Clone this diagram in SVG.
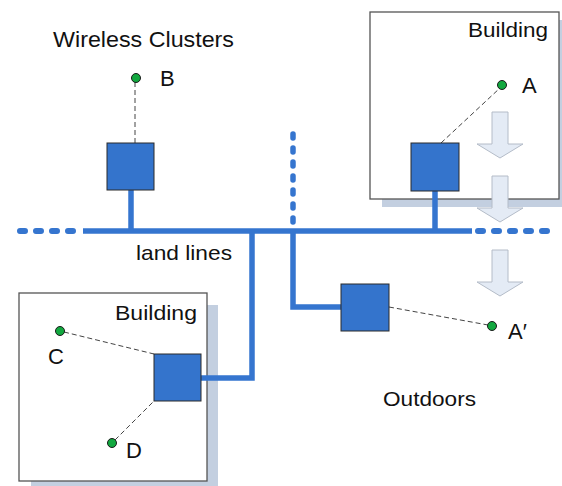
<svg xmlns="http://www.w3.org/2000/svg" width="562" height="486" viewBox="0 0 562 486">
<style>
text{font-family:"Liberation Sans",Arial,sans-serif;fill:#111;}
.bld{fill:#fff;stroke:#555;stroke-width:1.3;}
.shd{fill:#c3cfe0;}
.ap{fill:#3474cc;stroke:#2a2a2a;stroke-width:1;}
.dot{fill:#12a83f;stroke:#1a1a1a;stroke-width:1;}
.wire{stroke:#3575cf;stroke-width:5.5;fill:none;}
.dash{stroke:#3575cf;stroke-width:6;fill:none;stroke-dasharray:5 11;stroke-linecap:round;}
.vdash{stroke:#3575cf;stroke-width:5.5;fill:none;stroke-dasharray:4 10;stroke-linecap:round;}
.rad{stroke:#444;stroke-width:1;stroke-dasharray:5 3;fill:none;}
.arr{fill:#e4ebf5;stroke:#b4bcc8;stroke-width:1;}
.lt{font-size:22px;}
</style>
<defs>
<path id="bigarrow" d="M-8,0 H8 V32 H23 L0,46 L-23,32 H-8 Z"/>
</defs>
<g id="building-top">
<rect class="shd" x="382" y="20" width="188" height="187"/>
<rect class="bld" x="370" y="12" width="189" height="187"/>
<text x="468" y="37" font-size="21" textLength="80" lengthAdjust="spacingAndGlyphs">Building</text>
</g>
<g id="building-bottom">
<rect class="shd" x="31" y="305" width="187" height="188"/>
<rect class="bld" x="19" y="293" width="188" height="188"/>
<text x="115" y="320" font-size="21" textLength="82" lengthAdjust="spacingAndGlyphs">Building</text>
</g>
<g id="labels">
<text x="53" y="47" font-size="21.5" textLength="181" lengthAdjust="spacingAndGlyphs">Wireless Clusters</text>
<text x="136" y="260" font-size="21" textLength="96" lengthAdjust="spacingAndGlyphs">land lines</text>
<text x="383" y="406" font-size="21" textLength="93" lengthAdjust="spacingAndGlyphs">Outdoors</text>
</g>
<g id="arrows">
<use href="#bigarrow" class="arr" transform="translate(500,112)"/>
<use href="#bigarrow" class="arr" transform="translate(500,176)"/>
<use href="#bigarrow" class="arr" transform="translate(500,250)"/>
</g>
<g id="connectors">
<line class="dash" x1="20" y1="231" x2="78" y2="231"/>
<line class="wire" x1="83" y1="231" x2="472" y2="231"/>
<line class="dash" x1="478" y1="231" x2="555" y2="231"/>
<line class="vdash" x1="293" y1="134" x2="293" y2="228"/>
<polyline class="wire" points="293,229 293,307 341,307"/>
<line class="wire" x1="131" y1="190" x2="131" y2="231"/>
<line class="wire" x1="435" y1="191" x2="435" y2="231"/>
<polyline class="wire" points="201,378 252,378 252,229"/>
<line class="rad" x1="135" y1="82" x2="135" y2="143"/>
<line class="rad" x1="441" y1="143" x2="500" y2="88"/>
<line class="rad" x1="389" y1="307" x2="488" y2="325"/>
<line class="rad" x1="64" y1="332" x2="154" y2="354"/>
<line class="rad" x1="115" y1="440" x2="154" y2="401"/>
</g>
<g id="ap-B"><rect class="ap" x="107" y="143" width="47" height="47"/></g>
<g id="ap-A"><rect class="ap" x="411" y="143" width="48" height="48"/></g>
<g id="ap-out"><rect class="ap" x="341" y="284" width="48" height="47"/></g>
<g id="ap-CD"><rect class="ap" x="154" y="354" width="47" height="47"/></g>
<g id="node-B"><circle class="dot" cx="136" cy="78" r="4.5"/><text class="lt" x="160" y="86">B</text></g>
<g id="node-A"><circle class="dot" cx="502" cy="85" r="4.5"/><text class="lt" x="522" y="93">A</text></g>
<g id="node-A2"><circle class="dot" cx="492" cy="326" r="4.5"/><text class="lt" x="508" y="339">A′</text></g>
<g id="node-C"><circle class="dot" cx="60" cy="331" r="4.5"/><text class="lt" x="48" y="364">C</text></g>
<g id="node-D"><circle class="dot" cx="112" cy="443" r="4.5"/><text class="lt" x="126" y="458">D</text></g>
</svg>
